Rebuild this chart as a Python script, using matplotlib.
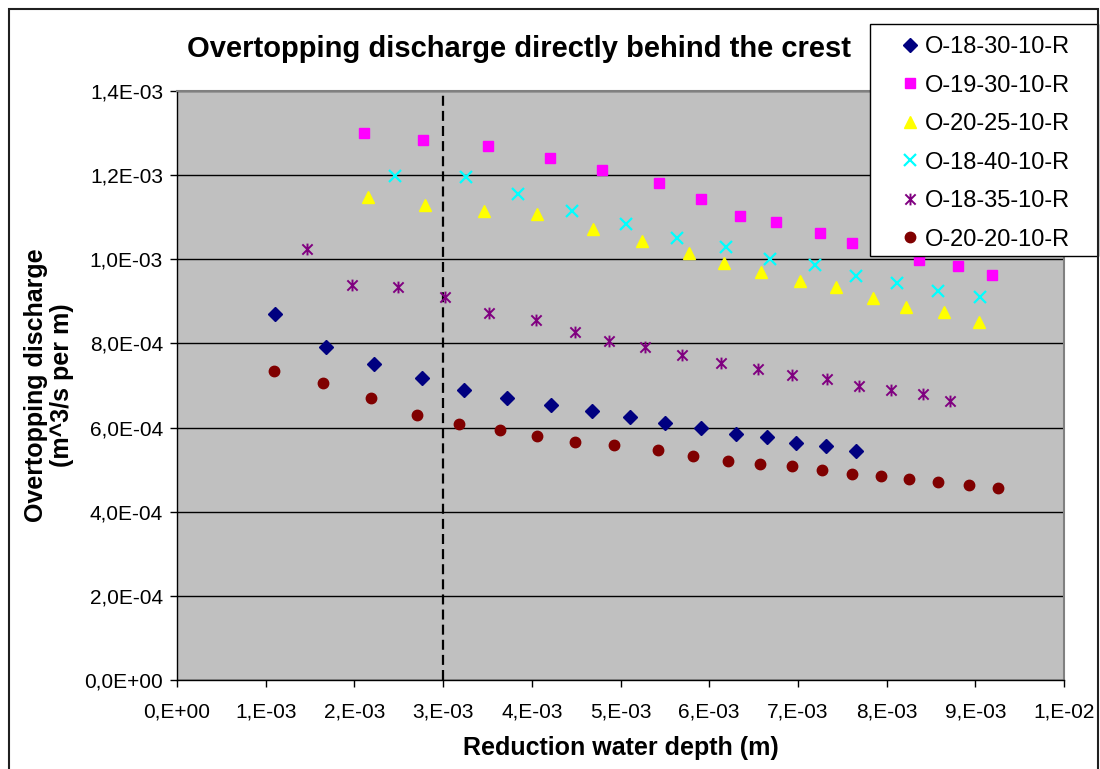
import numpy as np
import matplotlib
matplotlib.use('Agg')
import matplotlib.pyplot as plt
from matplotlib.path import Path
from matplotlib.patches import Rectangle

plt.rcParams['font.family'] = ['Liberation Sans', 'DejaVu Sans']

# x: reduction water depth [1e-3 m], y: overtopping discharge [1e-4 m^3/s per m]
x_18_30 = [1.10, 1.68, 2.22, 2.76, 3.24, 3.72, 4.22, 4.68, 5.11, 5.50, 5.91, 6.30, 6.65, 6.98, 7.32, 7.66]
y_18_30 = [8.70, 7.92, 7.51, 7.18, 6.89, 6.70, 6.54, 6.39, 6.25, 6.11, 5.99, 5.85, 5.78, 5.63, 5.56, 5.44]

x_19_30 = [2.11, 2.77, 3.51, 4.21, 4.79, 5.43, 5.91, 6.35, 6.75, 7.25, 7.61, 8.37, 8.80, 9.19]
y_19_30 = [13.00, 12.84, 12.69, 12.41, 12.12, 11.81, 11.43, 11.03, 10.89, 10.63, 10.39, 9.98, 9.84, 9.63]

x_20_25 = [2.15, 2.80, 3.46, 4.06, 4.69, 5.24, 5.77, 6.17, 6.58, 7.02, 7.43, 7.85, 8.22, 8.65, 9.04]
y_20_25 = [11.48, 11.29, 11.15, 11.08, 10.72, 10.43, 10.15, 9.91, 9.70, 9.48, 9.34, 9.08, 8.87, 8.75, 8.51]

x_18_40 = [2.46, 3.26, 3.84, 4.45, 5.06, 5.64, 6.19, 6.69, 7.19, 7.66, 8.12, 8.58, 9.05]
y_18_40 = [11.98, 11.96, 11.55, 11.15, 10.84, 10.51, 10.29, 10.01, 9.86, 9.60, 9.44, 9.25, 9.10]

x_18_35 = [1.47, 1.97, 2.49, 3.02, 3.52, 4.05, 4.49, 4.87, 5.28, 5.69, 6.13, 6.55, 6.93, 7.33, 7.69, 8.05, 8.41, 8.71]
y_18_35 = [10.24, 9.39, 9.34, 9.10, 8.72, 8.56, 8.27, 8.06, 7.92, 7.73, 7.54, 7.39, 7.25, 7.15, 6.99, 6.89, 6.80, 6.63]

x_20_20 = [1.09, 1.65, 2.19, 2.71, 3.18, 3.64, 4.06, 4.49, 4.93, 5.42, 5.82, 6.21, 6.57, 6.93, 7.27, 7.61, 7.94,
           8.25, 8.58, 8.93, 9.26]
y_20_20 = [7.34, 7.06, 6.70, 6.30, 6.09, 5.94, 5.80, 5.66, 5.59, 5.47, 5.32, 5.21, 5.13, 5.09, 4.99, 4.90, 4.85,
           4.78, 4.71, 4.64, 4.56]

series_names = ['O-18-30-10-R', 'O-19-30-10-R', 'O-20-25-10-R', 'O-18-40-10-R', 'O-18-35-10-R', 'O-20-20-10-R']

x_ticks = [0, 1e-3, 2e-3, 3e-3, 4e-3, 5e-3, 6e-3, 7e-3, 8e-3, 9e-3, 1e-2]
x_tick_labels = ['0,E+00', '1,E-03', '2,E-03', '3,E-03', '4,E-03', '5,E-03', '6,E-03', '7,E-03', '8,E-03',
                 '9,E-03', '1,E-02']
y_ticks = [0, 2e-4, 4e-4, 6e-4, 8e-4, 1e-3, 1.2e-3, 1.4e-3]
y_tick_labels = ['0,0E+00', '2,0E-04', '4,0E-04', '6,0E-04', '8,0E-04', '1,0E-03', '1,2E-03', '1,4E-03']

limit_depth = 3e-3

# excel style star marker: an x with a vertical bar through it
star = Path([(-1, -1), (1, 1), (-1, 1), (1, -1), (0, -1.15), (0, 1.15)],
            [Path.MOVETO, Path.LINETO] * 3)

styles = [
    dict(marker='D', color='#000080', ms=7.5),
    dict(marker='s', color='#FF00FF', ms=7.2),
    dict(marker='^', color='#FFFF00', ms=9),
    dict(marker='x', color='#00FFFF', ms=8, mew=1.6),
    dict(marker=star, color='#800080', ms=8.5, mew=1.4),
    dict(marker='o', color='#800000', ms=7.5),
]
xs = [x_18_30, x_19_30, x_20_25, x_18_40, x_18_35, x_20_20]
ys = [y_18_30, y_19_30, y_20_25, y_18_40, y_18_35, y_20_20]

fig = plt.figure(figsize=(11, 7.69), dpi=100)
ax = fig.add_axes([177 / 1100, 1 - 680 / 769, 887 / 1100, 589 / 769])
ax.set_facecolor('#C0C0C0')

handles = []
for x, y, name, st in zip(xs, ys, series_names, styles):
    h, = ax.plot(np.array(x) * 1e-3, np.array(y) * 1e-4, linestyle='none', label=name,
                 markeredgecolor=st['color'], **st)
    handles.append(h)

ax.axvline(limit_depth, color='black', lw=1.6, ls=(0, (4.5, 2.3)), zorder=1.5)

ax.set_xlim(0, 1e-2)
ax.set_ylim(0, 1.4e-3)
ax.set_xticks(x_ticks)
ax.set_xticklabels(x_tick_labels)
ax.set_yticks(y_ticks)
ax.set_yticklabels(y_tick_labels)
ax.tick_params(axis='both', labelsize=15, length=5, width=1, color='black')
ax.tick_params(axis='y', pad=5)
ax.tick_params(axis='x', pad=11)
ax.yaxis.grid(True, color='black', lw=1)
ax.set_axisbelow(True)
for s in ['left', 'bottom']:
    ax.spines[s].set_color('black')
    ax.spines[s].set_linewidth(1)
for s in ['top', 'right']:
    ax.spines[s].set_color('#808080')
    ax.spines[s].set_linewidth(1.5)

fig.text(187 / 1100, 1 - 49 / 769, 'Overtopping discharge directly behind the crest',
         ha='left', va='center', fontsize=21, fontweight='bold')
fig.text(620.5 / 1100, 1 - 748 / 769, 'Reduction water depth (m)', ha='center', va='center',
         fontsize=18, fontweight='bold')
fig.text(49 / 1100, 1 - 385 / 769, 'Overtopping discharge\n(m^3/s per m)', rotation=90, ha='center',
         va='center', multialignment='center', fontsize=18, fontweight='bold', linespacing=1.1)

# legend box and chart area border
fig.add_artist(Rectangle((870 / 1100, 1 - 256 / 769), 228 / 1100, 232 / 769, transform=fig.transFigure,
                         facecolor='white', edgecolor='black', lw=1, zorder=3))
fig.add_artist(Rectangle((9 / 1100, -0.05), 1089 / 1100, 1.05 - 9 / 769, transform=fig.transFigure,
                         fill=False, edgecolor='#202020', lw=1.5, zorder=4, clip_on=False))

fig.legend(handles=handles, loc='upper left', bbox_to_anchor=(898 / 1100, 1 - 36 / 769), frameon=False,
           fontsize=17, handlelength=1.0, handletextpad=0.15, borderpad=0, borderaxespad=0,
           labelspacing=0.7)

fig.savefig('out.png', dpi=100)
